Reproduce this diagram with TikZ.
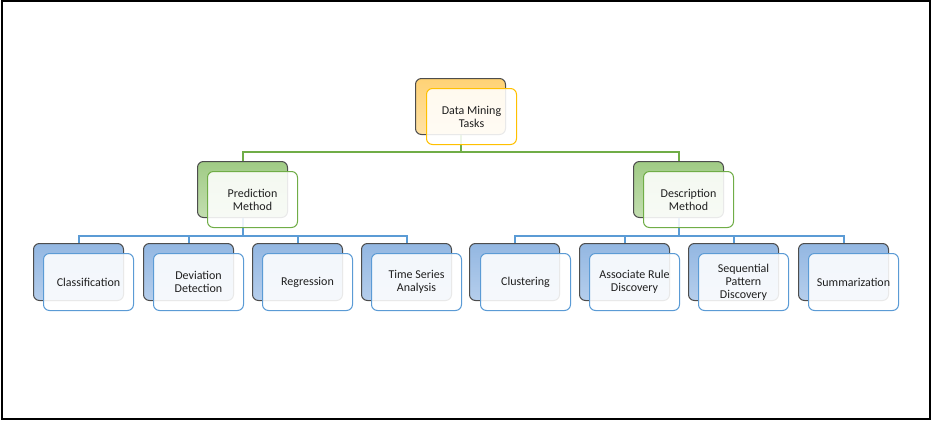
\documentclass[tikz,border=0pt]{standalone}
\usepackage{fontspec}
\setmainfont{Carlito}
\definecolor{goldline}{HTML}{FFC000}
\definecolor{greenline}{HTML}{70AD47}
\definecolor{blueline}{HTML}{5B9BD5}
\definecolor{orangetop}{HTML}{FFD275}
\definecolor{orangebot}{HTML}{FFE2A6}
\definecolor{greentop}{HTML}{A0CB85}
\definecolor{greenbot}{HTML}{C3DEB0}
\definecolor{bluetop}{HTML}{93B7E2}
\definecolor{bluebot}{HTML}{B5CEEC}
\definecolor{backedge}{HTML}{4D4D4D}
\begin{document}
\begin{tikzpicture}[x=0.75pt,y=-0.75pt,
  back/.style={draw=backedge, line width=0.75pt, rounded corners=4.5pt,
    minimum width=67.5pt, minimum height=42pt, inner sep=0pt, anchor=north west},
  front/.style={fill=white, fill opacity=0.88, text opacity=1, draw opacity=1,
    line width=0.75pt, rounded corners=4.5pt, minimum width=67.5pt,
    minimum height=42pt, inner sep=0pt, anchor=north west, align=center,
    text=black!88, font=\fontsize{9}{9.75}\selectfont},
  tall/.style={minimum height=42.75pt},
  orangeback/.style={back, top color=orangetop, bottom color=orangebot},
  greenback/.style={back, top color=greentop, bottom color=greenbot},
  blueback/.style={back, tall, top color=bluetop, bottom color=bluebot},
  goldfront/.style={front, draw=goldline},
  greenfront/.style={front, draw=greenline},
  bluefront/.style={front, tall, draw=blueline},
  gline/.style={draw=greenline, line width=1.5pt},
  bline/.style={draw=blueline, line width=1.5pt}
]
\useasboundingbox (0,0) rectangle (933,421);
\draw[line width=1.6pt] (2,1) rectangle (930,419);

% back boxes
\node[orangeback] (b0) at (415,78) {};
\node[greenback] (bP) at (197,161) {};
\node[greenback] (bD) at (633,161) {};
\node[blueback] (b1) at (33,243) {};
\node[blueback] (b2) at (143,243) {};
\node[blueback] (b3) at (252,243) {};
\node[blueback] (b4) at (361,243) {};
\node[blueback] (b5) at (469,243) {};
\node[blueback] (b6) at (579,243) {};
\node[blueback] (b7) at (688,243) {};
\node[blueback] (b8) at (798,243) {};

% connectors
\coordinate (j0) at (0,152);
\coordinate (j1) at (0,236);
\foreach \c in {bP,bD}
  \draw[gline] (b0.south) -- (b0.south |- j0) -| (\c.north);
\foreach \c in {b1,b2,b3,b4}
  \draw[bline] (bP.south) -- (bP.south |- j1) -| (\c.north);
\foreach \c in {b5,b6,b7,b8}
  \draw[bline] (bD.south) -- (bD.south |- j1) -| (\c.north);

% front boxes
\node[goldfront] (f0) at (426,88) {Data Mining\\Tasks};
\node[greenfront] (fP) at (207,171) {Prediction\\Method};
\node[greenfront] (fD) at (643,171) {Description\\Method};
\node[bluefront] (f1) at (43,253) {Classification};
\node[bluefront] (f2) at (153,253) {Deviation\\Detection};
\node[bluefront] (f3) at (262,253) {Regression};
\node[bluefront] (f4) at (371,253) {Time Series\\Analysis};
\node[bluefront] (f5) at (480,253) {Clustering};
\node[bluefront] (f6) at (589,253) {Associate Rule\\Discovery};
\node[bluefront] (f7) at (698,253) {Sequential\\Pattern\\Discovery};
\node[bluefront] (f8) at (808,253) {Summarization};
\end{tikzpicture}
\end{document}
